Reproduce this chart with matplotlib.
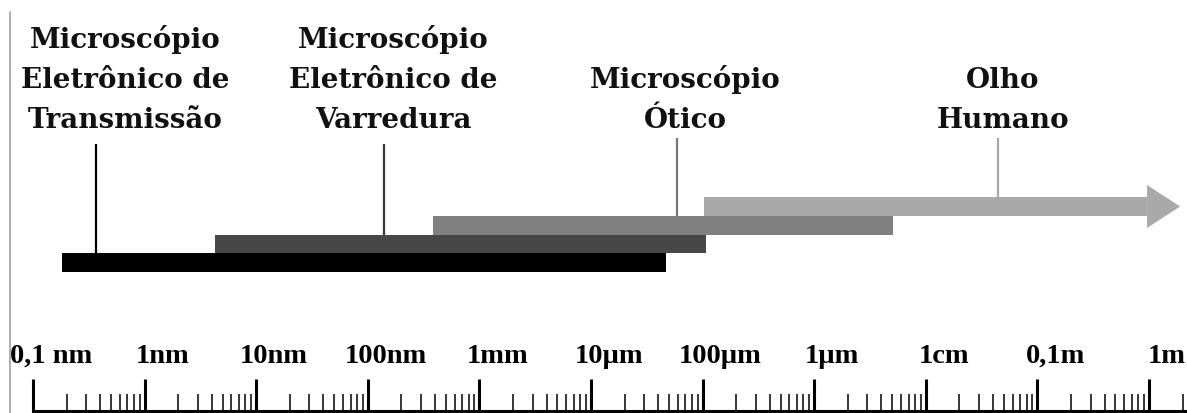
import numpy as np
import matplotlib
matplotlib.use("Agg")
import matplotlib.pyplot as plt
from matplotlib.lines import Line2D
from matplotlib.ticker import FixedLocator, NullFormatter
from matplotlib.transforms import ScaledTranslation

# ---------------- data (sizes in metres) ----------------
instruments = [
    "Microscópio\nEletrônico de\nTransmissão",
    "Microscópio\nEletrônico de\nVarredura",
    "Microscópio\nÓtico",
    "Olho\nHumano",
]
range_start = [1.8e-10, 4.3e-9, 3.8e-7, 1.03e-4]
range_end = [4.7e-5, 1.07e-4, 5.1e-3, 1.9]

tick_values = [1e-10, 1e-9, 1e-8, 1e-7, 1e-6, 1e-5, 1e-4, 1e-3, 1e-2, 1e-1, 1e0]
tick_labels = ["0,1 nm", "1nm", "10nm", "100nm", "1mm", "10\u00b5m",
               "100\u00b5m", "1\u00b5m", "1cm", "0,1m", "1m"]

# ---------------- layout / style ----------------
W, H, DPI = 1187, 414, 100
bar_colors = ["#000000", "#474747", "#808080", "#a9a9a9"]
line_colors = ["#000000", "#3a3a3a", "#787878", "#a8a8a8"]
bar_y = [263.5, 245.0, 226.5, 207.5]       # centre of each band (px from top)
bar_h = [19, 18, 19, 19]
leader_x = [3.7e-10, 1.4e-7, 5.9e-5, 4.4e-2]
leader_top = [145, 145, 139, 139]
label_x = [6.7e-10, 1.68e-7, 6.95e-5, 4.9e-2]
label_baselines = {3: [48, 88, 128], 2: [88, 128]}
head_decades = 0.296
head_half = 21.5

fig = plt.figure(figsize=(W / DPI, H / DPI), dpi=DPI)
fig.patch.set_facecolor("white")
ax = fig.add_axes([0, 2 / H, 1, (H - 2) / H])
ax.set_xscale("log")
xmin, xmax = 10 ** -10.296, 10 ** 0.3405
ax.set_xlim(xmin, xmax)
ax.set_ylim(H - 2, 0)
ax.set_facecolor("white")

# bands
for i in range(4):
    s, e = range_start[i], range_end[i]
    if i == 3:
        base = e / 10 ** head_decades
        ax.barh(bar_y[i], base - s, left=s, height=bar_h[i],
                color=bar_colors[i], linewidth=0, zorder=2 + i)
        ax.fill([base, e, base],
                [bar_y[i] - head_half, bar_y[i], bar_y[i] + head_half],
                color=bar_colors[i], linewidth=0, zorder=2 + i)
    else:
        ax.barh(bar_y[i], e - s, left=s, height=bar_h[i],
                color=bar_colors[i], linewidth=0, zorder=5 - i)

# leader lines
for i in range(4):
    ax.plot([leader_x[i], leader_x[i]],
            [leader_top[i], bar_y[i] - bar_h[i] / 2],
            color=line_colors[i], linewidth=1.6, solid_capstyle="butt", zorder=10)

# labels
for i, txt in enumerate(instruments):
    lines = txt.split("\n")
    for ln, yb in zip(lines, label_baselines[len(lines)]):
        ax.text(label_x[i], yb, ln, ha="center", va="baseline",
                fontsize=20, fontweight="bold", family="DejaVu Serif",
                color="#111111")

# ruler axis
for side in ["top", "left", "right"]:
    ax.spines[side].set_visible(False)
ax.spines["bottom"].set_linewidth(2.2)
ax.spines["bottom"].set_bounds(tick_values[0], xmax)
minor_vals = [d * s for d in tick_values for s in range(2, 10) if d * s < xmax]
ax.xaxis.set_major_locator(FixedLocator(tick_values))
ax.xaxis.set_minor_locator(FixedLocator(minor_vals))
ax.xaxis.set_major_formatter(NullFormatter())
ax.xaxis.set_minor_formatter(NullFormatter())
ax.tick_params(axis="x", which="major", direction="in", length=23, width=2.2)
ax.tick_params(axis="x", which="minor", direction="in", length=12, width=1.1)
ax.set_yticks([])

off = ax.transData + ScaledTranslation(18 / DPI, 0, fig.dpi_scale_trans)
for v, lab in zip(tick_values, tick_labels):
    ax.text(v, 363, lab, transform=off, ha="center", va="baseline",
            fontsize=20.5, fontweight="bold", family="Liberation Serif",
            color="#000000")

# left border line
fig.add_artist(Line2D([10 / W, 10 / W], [0, (H - 13) / H],
                      transform=fig.transFigure, color="#999999", linewidth=1.1))

fig.savefig("out.png", dpi=DPI, facecolor="white")
